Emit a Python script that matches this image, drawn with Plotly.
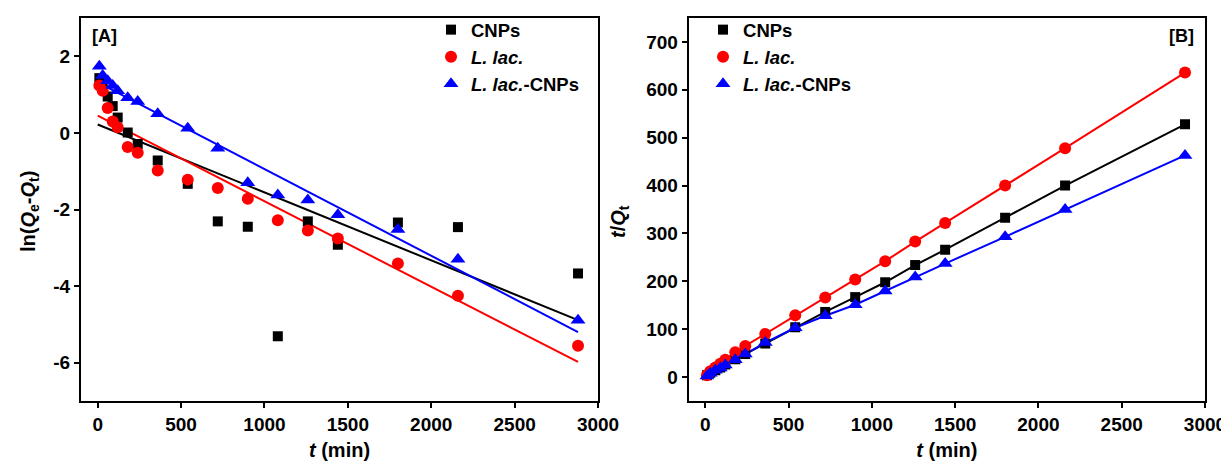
import plotly.graph_objects as go

# ---- data ----
t_min = [10, 30, 60, 90, 120, 180, 240, 360, 540, 720, 900, 1080, 1260, 1440, 1800, 2160, 2880]

lnA_cnps = [1.43, 1.20, 0.95, 0.70, 0.40, 0.01, -0.29, -0.72, -1.33, -2.31, -2.45, -5.31,
            -2.31, -2.92, -2.34, -2.46, -3.67]
lnA_llac = [1.24, 1.10, 0.65, 0.30, 0.15, -0.37, -0.52, -0.98, -1.22, -1.44, -1.72, -2.28,
            -2.55, -2.76, -3.41, -4.25, -5.56]
lnA_llac_cnps = [1.74, 1.50, 1.36, 1.24, 1.10, 0.92, 0.82, 0.50, 0.12, -0.40, -1.30, -1.62,
                 -1.75, -2.14, -2.52, -3.30, -4.89]

# linear fits of panel A (intercept, slope)
fit_intercept = [0.22, 0.45, 1.32]
fit_slope = [-0.001774, -0.002233, -0.002264]
fit_t = [0, 2880]

tq_cnps = [4, 9, 14, 20, 26, 37, 48, 70, 104, 136, 167, 198, 234, 266, 333, 400, 528]
tq_llac = [4, 12, 20, 28, 36, 52, 65, 90, 129, 166, 204, 242, 283, 322, 400, 478, 636]
tq_llac_cnps = [2, 8, 14, 19, 25, 36, 48, 72, 103, 128, 151, 180, 209, 237, 293, 350, 463]

names = ["CNPs", "<i>L. lac.</i>", "<i>L. lac.</i>-CNPs"]
colors = ["#000000", "#ff0000", "#0000ff"]
symbols = ["square", "circle", "triangle-up"]
sizes = [10, 12, 13]

x_ticks = [0, 500, 1000, 1500, 2000, 2500, 3000]
yA_ticks = [-6, -4, -2, 0, 2]
yA_ticktext = ["-6", "-4", "-2", "0", "2"]
yB_ticks = [0, 100, 200, 300, 400, 500, 600, 700]

FONT = "Liberation Sans"

fig = go.Figure()

seriesA = [lnA_cnps, lnA_llac, lnA_llac_cnps]
seriesB = [tq_cnps, tq_llac, tq_llac_cnps]

for i in range(3):
    fig.add_trace(go.Scatter(
        x=fit_t, y=[fit_intercept[i] + fit_slope[i] * tt for tt in fit_t],
        mode="lines", line=dict(color=colors[i], width=2),
        showlegend=False, hoverinfo="skip", xaxis="x", yaxis="y"))
    fig.add_trace(go.Scatter(
        x=t_min, y=seriesB[i], mode="lines",
        line=dict(color=colors[i], width=2),
        showlegend=False, hoverinfo="skip", xaxis="x2", yaxis="y2"))
for i in range(3):
    fig.add_trace(go.Scatter(
        x=t_min, y=seriesA[i], mode="markers", name=names[i],
        marker=dict(color=colors[i], symbol=symbols[i], size=sizes[i]),
        legend="legend", xaxis="x", yaxis="y"))
for i in range(3):
    fig.add_trace(go.Scatter(
        x=t_min, y=seriesB[i], mode="markers", name=names[i],
        marker=dict(color=colors[i], symbol=symbols[i], size=sizes[i]),
        legend="legend2", xaxis="x2", yaxis="y2"))

axis_common = dict(
    showline=True, linecolor="black", linewidth=2, mirror=True,
    ticks="outside", ticklen=5, tickwidth=2, tickcolor="black",
    showgrid=False, zeroline=False,
    tickfont=dict(size=19, color="black", family=FONT, weight="bold"),
)

title_font = dict(size=20, color="black", family=FONT, weight="bold")
legend_font = dict(size=18.5, color="black", family=FONT, weight="bold")
label_font = dict(size=18, color="black", family=FONT, weight="bold")

fig.update_layout(
    width=1229, height=466,
    margin=dict(l=73, r=32, t=10, b=73, autoexpand=False),
    paper_bgcolor="white", plot_bgcolor="white",
    font=dict(family=FONT, color="black", weight="bold"),
    xaxis=dict(domain=[0, 0.46], range=[-100, 3000], tickvals=x_ticks,
               title=dict(text="<i>t</i> (min)", font=title_font, standoff=9),
               anchor="y", **axis_common),
    yaxis=dict(range=[-7, 3], tickvals=yA_ticks, ticktext=yA_ticktext,
               anchor="x", **axis_common),
    xaxis2=dict(domain=[0.5406, 1], range=[-100, 3000], tickvals=x_ticks,
                title=dict(text="<i>t</i> (min)", font=title_font, standoff=9),
                anchor="y2", **axis_common),
    yaxis2=dict(range=[-50, 750], tickvals=yB_ticks,
                anchor="x2", **axis_common),
    legend=dict(x=0.3114, y=1.018, xanchor="left", yanchor="top",
                bgcolor="rgba(0,0,0,0)", tracegroupgap=0, font=legend_font),
    legend2=dict(x=0.5534, y=1.018, xanchor="left", yanchor="top",
                 bgcolor="rgba(0,0,0,0)", tracegroupgap=0, font=legend_font),
    annotations=[
        dict(text="[A]", xref="paper", yref="paper", x=0.008, y=0.953,
             xanchor="left", yanchor="middle", showarrow=False, font=label_font),
        dict(text="[B]", xref="paper", yref="paper", x=0.992, y=0.953,
             xanchor="right", yanchor="middle", showarrow=False, font=label_font),
        dict(text="ln(<i>Q</i><sub>e</sub>-<i>Q</i><sub>t</sub>)", xref="paper", yref="paper",
             x=-0.0463, y=0.496, xanchor="center", yanchor="middle", textangle=-90,
             showarrow=False, font=title_font),
        dict(text="<i>t</i>/<i>Q</i><sub>t</sub>", xref="paper", yref="paper",
             x=0.4795, y=0.47, xanchor="center", yanchor="middle", textangle=-90,
             showarrow=False, font=title_font),
    ],
)

fig.write_html("out.html")
